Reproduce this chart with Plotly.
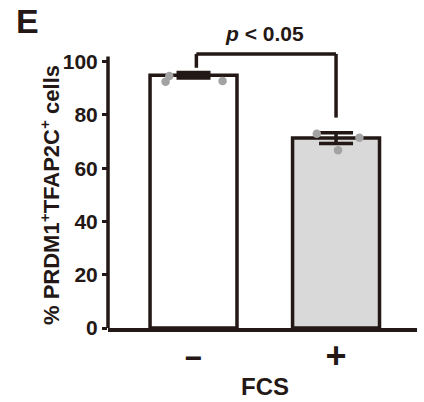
import plotly.graph_objects as go

# ---- data ----
categories = ["\u2212", "+"]          # FCS − / +
means = [94.9, 71.3]
sems = [1.0, 2.0]
points_bar1 = [94.6, 92.5, 92.7]
points_bar2 = [72.9, 71.4, 66.7]
jitter_bar1 = [-0.17, -0.196, 0.204]
jitter_bar2 = [-0.135, 0.164, 0.014]
ytick_vals = [0, 20, 40, 60, 80, 100]
bracket_left_y = 97.7
bracket_right_y = 79.0
bracket_top_y = 102.9
p_label = "<i>p</i> &lt; 0.05"

DARK = "#231815"
FONT = "Liberation Sans, Arial, sans-serif"
YMAX = 104.0
xpos = list(range(len(categories)))

fig = go.Figure()
fig.add_trace(go.Bar(
    x=xpos, y=means, width=0.61,
    marker=dict(color=["#ffffff", "#d9d9d9"], line=dict(color=DARK, width=3.5)),
    error_y=dict(type="data", array=sems, visible=True, color=DARK, thickness=3.5, width=17),
    showlegend=False, hoverinfo="skip",
))
for pos, pts, jit in [(0, points_bar1, jitter_bar1), (1, points_bar2, jitter_bar2)]:
    fig.add_trace(go.Scatter(
        x=[pos + j for j in jit], y=pts, mode="markers",
        marker=dict(size=8.5, color="#a3a3a3", line=dict(width=0)),
        showlegend=False, hoverinfo="skip", cliponaxis=False,
    ))

shapes = [
    # y axis line (slightly above 100)
    dict(type="line", xref="paper", yref="y", x0=0, x1=0, y0=0, y1=101.9,
         line=dict(color=DARK, width=3.5)),
    # significance bracket
    dict(type="line", xref="x", yref="y", x0=0.02, x1=0.02, y0=bracket_left_y, y1=bracket_top_y,
         line=dict(color=DARK, width=3.5)),
    dict(type="line", xref="x", yref="y", x0=0.02, x1=1.0, y0=bracket_top_y, y1=bracket_top_y,
         line=dict(color=DARK, width=3.5)),
    dict(type="line", xref="x", yref="y", x0=1.0, x1=1.0, y0=bracket_right_y, y1=bracket_top_y,
         line=dict(color=DARK, width=3.5)),
]

annotations = [
    dict(text="<b>E</b>", xref="paper", yref="paper", x=-0.259, y=1.110,
         showarrow=False, xanchor="center", yanchor="middle",
         font=dict(family=FONT, size=34, color=DARK)),
    dict(text="<b>" + p_label + "</b>", xref="x", yref="paper", x=0.5, y=1.062,
         showarrow=False, xanchor="center", yanchor="middle",
         font=dict(family=FONT, size=21, color=DARK)),
    dict(text="<b>FCS</b>", xref="x", yref="paper", x=0.5, y=-0.212,
         showarrow=False, xanchor="center", yanchor="middle",
         font=dict(family=FONT, size=24, color=DARK)),
    dict(text="<b>% PRDM1<sup>+</sup>TFAP2C<sup>+</sup> cells</b>", xref="paper", yref="paper",
         x=-0.1877, y=0.48, textangle=-90, showarrow=False, xanchor="center", yanchor="middle",
         font=dict(family=FONT, size=22, color=DARK)),
]

fig.update_layout(
    width=424, height=402, autosize=False,
    margin=dict(l=108, r=7, t=51, b=74),
    paper_bgcolor="white", plot_bgcolor="white",
    shapes=shapes, annotations=annotations,
    xaxis=dict(range=[-0.6, 1.568], tickmode="array", tickvals=xpos,
               ticktext=["<b><span style='font-size:30px'>\u2212</span></b>",
                         "<b><span style='font-size:36px'>+</span></b>"],
               showline=True, linecolor=DARK, linewidth=3.5, ticks="",
               showgrid=False, zeroline=False,
               tickfont=dict(family=FONT, size=30, color=DARK)),
    yaxis=dict(range=[0, YMAX], tickmode="array", tickvals=ytick_vals,
               ticktext=["<b>%d</b>" % v for v in ytick_vals],
               showline=False, ticks="outside", ticklen=5, tickwidth=3, tickcolor=DARK,
               showgrid=False, zeroline=False,
               tickfont=dict(family=FONT, size=21, color=DARK)),
)

fig.write_html("out.html", config={"displayModeBar": False},
               post_script="document.body.style.margin='0';document.body.style.overflow='hidden';")
